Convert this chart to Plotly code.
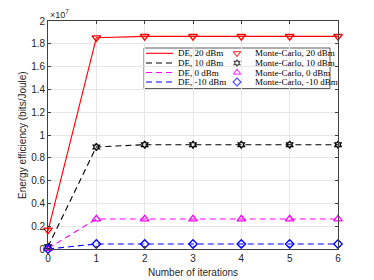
import plotly.graph_objects as go

iterations = [0, 1, 2, 3, 4, 5, 6]
scale = 1e7
de_20 = [0.16, 1.853, 1.865, 1.865, 1.865, 1.865, 1.865]
de_10 = [0.02, 0.895, 0.915, 0.915, 0.915, 0.915, 0.915]
de_0 = [0.005, 0.263, 0.263, 0.263, 0.263, 0.263, 0.263]
de_m10 = [0.0, 0.044, 0.044, 0.044, 0.044, 0.044, 0.044]
mc_20 = [0.167, 1.853, 1.865, 1.865, 1.865, 1.865, 1.865]
mc_10 = [0.02, 0.895, 0.915, 0.915, 0.915, 0.915, 0.915]
mc_0 = [0.005, 0.263, 0.263, 0.263, 0.263, 0.263, 0.263]
mc_m10 = [0.0, 0.044, 0.044, 0.044, 0.044, 0.044, 0.044]

de_names = ["DE, 20 dBm", "DE, 10 dBm", "DE, 0 dBm", "DE, -10 dBm"]
mc_names = ["Monte-Carlo, 20 dBm", "Monte-Carlo, 10 dBm", "Monte-Carlo, 0 dBm", "Monte-Carlo, -10 dBm"]
colors = ["#FF0000", "#000000", "#FF00FF", "#0000FF"]
dashes = ["solid", "6px,4px", "6px,4px", "6px,4px"]
symbols = ["triangle-down-open", "hexagram-open", "triangle-up-open", "diamond-open"]
sizes = [7.5, 5.5, 7.5, 6.5]
y_ticks = [0, 0.2, 0.4, 0.6, 0.8, 1, 1.2, 1.4, 1.6, 1.8, 2]
y_tick_text = ["0", "0.2", "0.4", "0.6", "0.8", "1", "1.2", "1.4", "1.6", "1.8", "2"]

# page offset (browser body margin)
OFF = 8
W, H = 374 - OFF, 280 - OFF
L, R, T, B = 48, 338, 21, 249  # plot area in page pixels


def px(xp):
    return (xp - L) / (R - L)


def py(yp):
    return (B - yp) / (B - T)


fig = go.Figure()
for s, c, d in zip([de_20, de_10, de_0, de_m10], colors, dashes):
    fig.add_trace(go.Scatter(x=iterations, y=[v * scale for v in s], mode="lines",
                             line=dict(color=c, width=1.1, dash=d),
                             showlegend=False, hoverinfo="skip"))
for s, c, m, sz in zip([mc_20, mc_10, mc_0, mc_m10], colors, symbols, sizes):
    fig.add_trace(go.Scatter(x=iterations, y=[v * scale for v in s], mode="markers",
                             marker=dict(symbol=m, color=c, size=sz, line=dict(width=1.3, color=c)),
                             showlegend=False, hoverinfo="skip", cliponaxis=False))

# manual legend
leg_rows = [53.3, 63, 72.5, 82]
shapes = [dict(type="rect", xref="paper", yref="paper", x0=px(144), x1=px(330), y0=py(48), y1=py(88.5),
               line=dict(color="#333333", width=0.8), fillcolor="white", layer="between")]
annotations = []
for i in range(4):
    yy = leg_rows[i]
    shapes.append(dict(type="line", xref="paper", yref="paper", x0=px(146), x1=px(173),
                       y0=py(yy), y1=py(yy),
                       line=dict(color=colors[i], width=1.1, dash=dashes[i]),
                       layer="above"))
    annotations.append(dict(x=px(175.5), y=py(yy), xref="paper", yref="paper", text=de_names[i],
                            showarrow=False, xanchor="left", yanchor="middle",
                            font=dict(family="Liberation Serif", size=9, color="#000000")))
    annotations.append(dict(x=px(252.5), y=py(yy), xref="paper", yref="paper", text=mc_names[i],
                            showarrow=False, xanchor="left", yanchor="middle",
                            font=dict(family="Liberation Serif", size=9, color="#000000")))
fig.add_trace(go.Scatter(x=[237] * 4, y=leg_rows, xaxis="x2", yaxis="y2", mode="markers",
                         marker=dict(symbol=symbols, color=colors, size=[6.5, 5, 6.5, 6],
                                     line=dict(width=1.2, color=colors)),
                         showlegend=False, hoverinfo="skip", cliponaxis=False))

annotations.append(dict(x=0, y=1, xref="paper", yref="paper", text="×10<sup>7</sup>", showarrow=False,
                        xanchor="left", yanchor="bottom", yshift=-1,
                        font=dict(family="Liberation Sans", size=9, color="#262626")))
annotations.append(dict(x=0.5, y=0, xref="paper", yref="paper", text="Number of iterations",
                        showarrow=False, xanchor="center", yanchor="middle", yshift=-23,
                        font=dict(family="Liberation Sans", size=10, color="#262626")))
annotations.append(dict(x=0, y=0.5, xref="paper", yref="paper", text="Energy efficiency (bits/Joule)",
                        showarrow=False, xanchor="center", yanchor="middle", xshift=-26, textangle=-90,
                        font=dict(family="Liberation Sans", size=10, color="#262626")))

axis_common = dict(showline=True, linecolor="#404040", linewidth=0.8, mirror="ticks",
                   ticks="inside", ticklen=3, tickcolor="#404040", automargin=False,
                   showgrid=True, gridcolor="#E6E6E6", gridwidth=0.8, zeroline=False,
                   tickfont=dict(family="Liberation Sans", size=10, color="#262626"))

fig.update_layout(
    width=W, height=H,
    margin=dict(l=L - OFF, r=W - (R - OFF), t=T - OFF, b=H - (B - OFF), autoexpand=False),
    plot_bgcolor="white", paper_bgcolor="white",
    xaxis=dict(range=[0, 6], tickvals=iterations, **axis_common),
    yaxis=dict(range=[0, 2 * scale], tickvals=[v * scale for v in y_ticks], ticktext=y_tick_text,
               **axis_common),
    xaxis2=dict(overlaying="x", range=[L, R], visible=False, fixedrange=True, automargin=False),
    yaxis2=dict(overlaying="y", range=[B, T], visible=False, fixedrange=True, automargin=False),
    shapes=shapes, annotations=annotations,
    showlegend=False,
)

fig.write_html("out.html")
